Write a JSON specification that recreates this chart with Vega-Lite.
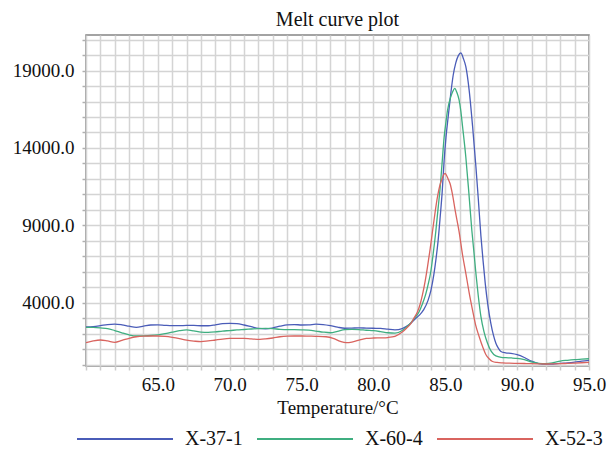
{
  "$schema": "https://vega.github.io/schema/vega-lite/v6.json",
  "width": 503,
  "height": 331,
  "autosize": {"type": "none"},
  "padding": {"left": 86, "top": 35, "right": 20, "bottom": 84},
  "background": "white",
  "title": {"text": "Melt curve plot", "font": "Liberation Serif", "fontSize": 20, "fontWeight": "normal", "color": "#111111", "anchor": "middle", "offset": 1},
  "config": {"view": {"stroke": "#858585", "strokeWidth": 1.5}, "font": "Liberation Serif"},
  "datasets": {
    "curves": [
      {"s":"X-37-1","t":60.0,"v":2430},{"s":"X-37-1","t":60.5,"v":2460},{"s":"X-37-1","t":61.0,"v":2520},{"s":"X-37-1","t":61.5,"v":2590},{"s":"X-37-1","t":62.0,"v":2620},{"s":"X-37-1","t":62.5,"v":2570},{"s":"X-37-1","t":63.0,"v":2480},{"s":"X-37-1","t":63.5,"v":2410},{"s":"X-37-1","t":64.0,"v":2480},{"s":"X-37-1","t":64.5,"v":2560},{"s":"X-37-1","t":65.0,"v":2570},{"s":"X-37-1","t":65.5,"v":2540},{"s":"X-37-1","t":66.0,"v":2520},{"s":"X-37-1","t":66.5,"v":2520},{"s":"X-37-1","t":67.0,"v":2530},{"s":"X-37-1","t":67.5,"v":2530},{"s":"X-37-1","t":68.0,"v":2510},{"s":"X-37-1","t":68.5,"v":2510},{"s":"X-37-1","t":69.0,"v":2570},{"s":"X-37-1","t":69.5,"v":2650},{"s":"X-37-1","t":70.0,"v":2670},{"s":"X-37-1","t":70.5,"v":2650},{"s":"X-37-1","t":71.0,"v":2560},{"s":"X-37-1","t":71.5,"v":2450},{"s":"X-37-1","t":72.0,"v":2340},{"s":"X-37-1","t":72.5,"v":2310},{"s":"X-37-1","t":73.0,"v":2370},{"s":"X-37-1","t":73.5,"v":2480},{"s":"X-37-1","t":74.0,"v":2570},{"s":"X-37-1","t":74.5,"v":2590},{"s":"X-37-1","t":75.0,"v":2560},{"s":"X-37-1","t":75.5,"v":2570},{"s":"X-37-1","t":76.0,"v":2610},{"s":"X-37-1","t":76.5,"v":2590},{"s":"X-37-1","t":77.0,"v":2520},{"s":"X-37-1","t":77.5,"v":2420},{"s":"X-37-1","t":78.0,"v":2350},{"s":"X-37-1","t":78.5,"v":2360},{"s":"X-37-1","t":79.0,"v":2370},{"s":"X-37-1","t":79.5,"v":2360},{"s":"X-37-1","t":80.0,"v":2350},{"s":"X-37-1","t":80.5,"v":2340},{"s":"X-37-1","t":81.0,"v":2290},{"s":"X-37-1","t":81.5,"v":2250},{"s":"X-37-1","t":82.0,"v":2330},{"s":"X-37-1","t":82.3,"v":2470},{"s":"X-37-1","t":82.6,"v":2680},{"s":"X-37-1","t":82.9,"v":2950},{"s":"X-37-1","t":83.2,"v":3200},{"s":"X-37-1","t":83.5,"v":3550},{"s":"X-37-1","t":83.8,"v":4150},{"s":"X-37-1","t":84.0,"v":4800},{"s":"X-37-1","t":84.2,"v":5800},{"s":"X-37-1","t":84.35,"v":6800},{"s":"X-37-1","t":84.5,"v":8000},{"s":"X-37-1","t":84.65,"v":9600},{"s":"X-37-1","t":84.78,"v":11100},{"s":"X-37-1","t":84.92,"v":13200},{"s":"X-37-1","t":85.05,"v":14700},{"s":"X-37-1","t":85.2,"v":16000},{"s":"X-37-1","t":85.38,"v":17500},{"s":"X-37-1","t":85.55,"v":18700},{"s":"X-37-1","t":85.73,"v":19500},{"s":"X-37-1","t":85.9,"v":19950},{"s":"X-37-1","t":86.08,"v":20150},{"s":"X-37-1","t":86.25,"v":19800},{"s":"X-37-1","t":86.43,"v":19250},{"s":"X-37-1","t":86.66,"v":17740},{"s":"X-37-1","t":86.9,"v":15400},{"s":"X-37-1","t":87.13,"v":12800},{"s":"X-37-1","t":87.29,"v":10800},{"s":"X-37-1","t":87.48,"v":8300},{"s":"X-37-1","t":87.63,"v":6700},{"s":"X-37-1","t":87.78,"v":5250},{"s":"X-37-1","t":87.97,"v":3800},{"s":"X-37-1","t":88.17,"v":2670},{"s":"X-37-1","t":88.35,"v":1900},{"s":"X-37-1","t":88.52,"v":1380},{"s":"X-37-1","t":88.7,"v":1050},{"s":"X-37-1","t":88.87,"v":850},{"s":"X-37-1","t":89.2,"v":760},{"s":"X-37-1","t":89.57,"v":720},{"s":"X-37-1","t":90.0,"v":640},{"s":"X-37-1","t":90.5,"v":460},{"s":"X-37-1","t":91.0,"v":220},{"s":"X-37-1","t":91.5,"v":70},{"s":"X-37-1","t":92.0,"v":30},{"s":"X-37-1","t":92.5,"v":40},{"s":"X-37-1","t":93.0,"v":80},{"s":"X-37-1","t":93.5,"v":110},{"s":"X-37-1","t":94.0,"v":160},{"s":"X-37-1","t":94.5,"v":230},{"s":"X-37-1","t":95.0,"v":280},
      {"s":"X-60-4","t":60.0,"v":2410},{"s":"X-60-4","t":60.5,"v":2400},{"s":"X-60-4","t":61.0,"v":2370},{"s":"X-60-4","t":61.5,"v":2330},{"s":"X-60-4","t":62.0,"v":2200},{"s":"X-60-4","t":62.5,"v":2050},{"s":"X-60-4","t":63.0,"v":1920},{"s":"X-60-4","t":63.5,"v":1850},{"s":"X-60-4","t":64.0,"v":1860},{"s":"X-60-4","t":64.5,"v":1880},{"s":"X-60-4","t":65.0,"v":1920},{"s":"X-60-4","t":65.5,"v":2000},{"s":"X-60-4","t":66.0,"v":2100},{"s":"X-60-4","t":66.5,"v":2190},{"s":"X-60-4","t":67.0,"v":2240},{"s":"X-60-4","t":67.5,"v":2180},{"s":"X-60-4","t":68.0,"v":2100},{"s":"X-60-4","t":68.5,"v":2080},{"s":"X-60-4","t":69.0,"v":2110},{"s":"X-60-4","t":69.5,"v":2170},{"s":"X-60-4","t":70.0,"v":2200},{"s":"X-60-4","t":70.5,"v":2240},{"s":"X-60-4","t":71.0,"v":2270},{"s":"X-60-4","t":71.5,"v":2300},{"s":"X-60-4","t":72.0,"v":2330},{"s":"X-60-4","t":72.5,"v":2340},{"s":"X-60-4","t":73.0,"v":2320},{"s":"X-60-4","t":73.5,"v":2280},{"s":"X-60-4","t":74.0,"v":2260},{"s":"X-60-4","t":74.5,"v":2260},{"s":"X-60-4","t":75.0,"v":2250},{"s":"X-60-4","t":75.5,"v":2230},{"s":"X-60-4","t":76.0,"v":2170},{"s":"X-60-4","t":76.5,"v":2100},{"s":"X-60-4","t":77.0,"v":2060},{"s":"X-60-4","t":77.5,"v":2150},{"s":"X-60-4","t":78.0,"v":2260},{"s":"X-60-4","t":78.5,"v":2280},{"s":"X-60-4","t":79.0,"v":2260},{"s":"X-60-4","t":79.5,"v":2220},{"s":"X-60-4","t":80.0,"v":2190},{"s":"X-60-4","t":80.5,"v":2130},{"s":"X-60-4","t":81.0,"v":2060},{"s":"X-60-4","t":81.5,"v":2030},{"s":"X-60-4","t":82.0,"v":2200},{"s":"X-60-4","t":82.3,"v":2430},{"s":"X-60-4","t":82.6,"v":2700},{"s":"X-60-4","t":82.9,"v":3050},{"s":"X-60-4","t":83.17,"v":3400},{"s":"X-60-4","t":83.4,"v":3900},{"s":"X-60-4","t":83.64,"v":4550},{"s":"X-60-4","t":83.8,"v":5150},{"s":"X-60-4","t":83.99,"v":6000},{"s":"X-60-4","t":84.15,"v":7100},{"s":"X-60-4","t":84.34,"v":8600},{"s":"X-60-4","t":84.5,"v":10100},{"s":"X-60-4","t":84.65,"v":11500},{"s":"X-60-4","t":84.8,"v":13300},{"s":"X-60-4","t":84.92,"v":14700},{"s":"X-60-4","t":85.05,"v":15700},{"s":"X-60-4","t":85.15,"v":16400},{"s":"X-60-4","t":85.38,"v":17300},{"s":"X-60-4","t":85.52,"v":17650},{"s":"X-60-4","t":85.66,"v":17850},{"s":"X-60-4","t":85.8,"v":17600},{"s":"X-60-4","t":85.96,"v":17100},{"s":"X-60-4","t":86.08,"v":16400},{"s":"X-60-4","t":86.2,"v":15400},{"s":"X-60-4","t":86.43,"v":13400},{"s":"X-60-4","t":86.64,"v":11100},{"s":"X-60-4","t":86.85,"v":8650},{"s":"X-60-4","t":87.0,"v":7200},{"s":"X-60-4","t":87.13,"v":5900},{"s":"X-60-4","t":87.3,"v":4400},{"s":"X-60-4","t":87.48,"v":3100},{"s":"X-60-4","t":87.7,"v":2100},{"s":"X-60-4","t":87.94,"v":1380},{"s":"X-60-4","t":88.2,"v":850},{"s":"X-60-4","t":88.52,"v":560},{"s":"X-60-4","t":88.9,"v":470},{"s":"X-60-4","t":89.22,"v":450},{"s":"X-60-4","t":89.6,"v":430},{"s":"X-60-4","t":90.0,"v":400},{"s":"X-60-4","t":90.5,"v":320},{"s":"X-60-4","t":91.0,"v":180},{"s":"X-60-4","t":91.5,"v":80},{"s":"X-60-4","t":92.0,"v":60},{"s":"X-60-4","t":92.5,"v":120},{"s":"X-60-4","t":93.0,"v":230},{"s":"X-60-4","t":93.5,"v":280},{"s":"X-60-4","t":94.0,"v":320},{"s":"X-60-4","t":94.5,"v":350},{"s":"X-60-4","t":95.0,"v":380},
      {"s":"X-52-3","t":60.0,"v":1415},{"s":"X-52-3","t":60.5,"v":1530},{"s":"X-52-3","t":61.0,"v":1590},{"s":"X-52-3","t":61.5,"v":1530},{"s":"X-52-3","t":62.0,"v":1440},{"s":"X-52-3","t":62.5,"v":1560},{"s":"X-52-3","t":63.0,"v":1700},{"s":"X-52-3","t":63.5,"v":1800},{"s":"X-52-3","t":64.0,"v":1840},{"s":"X-52-3","t":64.5,"v":1850},{"s":"X-52-3","t":65.0,"v":1850},{"s":"X-52-3","t":65.5,"v":1820},{"s":"X-52-3","t":66.0,"v":1760},{"s":"X-52-3","t":66.5,"v":1680},{"s":"X-52-3","t":67.0,"v":1580},{"s":"X-52-3","t":67.5,"v":1520},{"s":"X-52-3","t":68.0,"v":1480},{"s":"X-52-3","t":68.5,"v":1530},{"s":"X-52-3","t":69.0,"v":1590},{"s":"X-52-3","t":69.5,"v":1650},{"s":"X-52-3","t":70.0,"v":1690},{"s":"X-52-3","t":70.5,"v":1700},{"s":"X-52-3","t":71.0,"v":1690},{"s":"X-52-3","t":71.5,"v":1660},{"s":"X-52-3","t":72.1,"v":1635},{"s":"X-52-3","t":72.5,"v":1660},{"s":"X-52-3","t":73.0,"v":1720},{"s":"X-52-3","t":73.5,"v":1800},{"s":"X-52-3","t":74.0,"v":1840},{"s":"X-52-3","t":74.5,"v":1850},{"s":"X-52-3","t":75.0,"v":1850},{"s":"X-52-3","t":75.5,"v":1840},{"s":"X-52-3","t":76.0,"v":1830},{"s":"X-52-3","t":76.7,"v":1800},{"s":"X-52-3","t":77.2,"v":1700},{"s":"X-52-3","t":77.7,"v":1500},{"s":"X-52-3","t":78.1,"v":1415},{"s":"X-52-3","t":78.5,"v":1450},{"s":"X-52-3","t":79.0,"v":1580},{"s":"X-52-3","t":79.5,"v":1690},{"s":"X-52-3","t":80.0,"v":1720},{"s":"X-52-3","t":80.5,"v":1730},{"s":"X-52-3","t":81.0,"v":1750},{"s":"X-52-3","t":81.5,"v":1820},{"s":"X-52-3","t":82.0,"v":2100},{"s":"X-52-3","t":82.3,"v":2350},{"s":"X-52-3","t":82.6,"v":2650},{"s":"X-52-3","t":82.85,"v":3050},{"s":"X-52-3","t":83.06,"v":3400},{"s":"X-52-3","t":83.25,"v":3900},{"s":"X-52-3","t":83.41,"v":4500},{"s":"X-52-3","t":83.6,"v":5400},{"s":"X-52-3","t":83.76,"v":6300},{"s":"X-52-3","t":83.95,"v":7500},{"s":"X-52-3","t":84.11,"v":8600},{"s":"X-52-3","t":84.3,"v":9900},{"s":"X-52-3","t":84.45,"v":10800},{"s":"X-52-3","t":84.6,"v":11500},{"s":"X-52-3","t":84.75,"v":11950},{"s":"X-52-3","t":84.88,"v":12250},{"s":"X-52-3","t":84.99,"v":12360},{"s":"X-52-3","t":85.1,"v":12200},{"s":"X-52-3","t":85.2,"v":12000},{"s":"X-52-3","t":85.33,"v":11700},{"s":"X-52-3","t":85.5,"v":11000},{"s":"X-52-3","t":85.7,"v":9900},{"s":"X-52-3","t":85.96,"v":8600},{"s":"X-52-3","t":86.2,"v":7100},{"s":"X-52-3","t":86.43,"v":5900},{"s":"X-52-3","t":86.65,"v":4700},{"s":"X-52-3","t":86.9,"v":3500},{"s":"X-52-3","t":87.1,"v":2600},{"s":"X-52-3","t":87.36,"v":1800},{"s":"X-52-3","t":87.6,"v":1150},{"s":"X-52-3","t":87.82,"v":650},{"s":"X-52-3","t":88.05,"v":380},{"s":"X-52-3","t":88.29,"v":200},{"s":"X-52-3","t":88.6,"v":140},{"s":"X-52-3","t":89.0,"v":110},{"s":"X-52-3","t":89.45,"v":90},{"s":"X-52-3","t":90.0,"v":80},{"s":"X-52-3","t":90.5,"v":70},{"s":"X-52-3","t":91.0,"v":60},{"s":"X-52-3","t":91.5,"v":50},{"s":"X-52-3","t":92.0,"v":40},{"s":"X-52-3","t":92.5,"v":50},{"s":"X-52-3","t":93.0,"v":60},{"s":"X-52-3","t":93.5,"v":80},{"s":"X-52-3","t":94.0,"v":100},{"s":"X-52-3","t":94.5,"v":120},{"s":"X-52-3","t":95.0,"v":140}
    ]
  },
  "data": {"name": "curves"},
  "mark": {"type": "line", "strokeWidth": 1.3, "interpolate": "monotone", "clip": true},
  "encoding": {
    "x": {
      "field": "t", "type": "quantitative",
      "scale": {"domain": [60, 95], "nice": false, "zero": false},
      "axis": {
        "values": [60,61,62,63,64,65,66,67,68,69,70,71,72,73,74,75,76,77,78,79,80,81,82,83,84,85,86,87,88,89,90,91,92,93,94,95],
        "labelExpr": "datum.value % 5 == 0 && datum.value > 60 ? format(datum.value, '.1f') : ''",
        "labelFont": "Liberation Serif", "labelFontSize": 19, "labelColor": "#111111",
        "labelOverlap": false, "labelFlush": false, "labelPadding": 5,
        "tickSize": 4, "tickColor": "#cccccc", "tickWidth": 1.5,
        "grid": true, "gridColor": "#d4d4d4", "gridWidth": 1.5,
        "domain": false,
        "title": "Temperature/°C", "titleFont": "Liberation Serif", "titleFontSize": 19,
        "titleFontWeight": "normal", "titleColor": "#111111", "titlePadding": 4
      }
    },
    "y": {
      "field": "v", "type": "quantitative",
      "scale": {"domain": [-90, 21300], "nice": false, "zero": false},
      "axis": {
        "values": [0,1000,2000,3000,4000,5000,6000,7000,8000,9000,10000,11000,12000,13000,14000,15000,16000,17000,18000,19000,20000,21000],
        "labelExpr": "(datum.value + 1000) % 5000 == 0 ? format(datum.value, '.1f') : ''",
        "labelFont": "Liberation Serif", "labelFontSize": 19, "labelColor": "#111111",
        "labelOverlap": false, "labelPadding": 8,
        "tickSize": 4, "tickColor": "#b0b0b0", "tickWidth": 1.5,
        "grid": true, "gridColor": "#d4d4d4", "gridWidth": 1.5,
        "domain": false, "title": null
      }
    },
    "color": {
      "field": "s", "type": "nominal",
      "scale": {"domain": ["X-37-1", "X-60-4", "X-52-3"], "range": ["#4a5cb8", "#3fae80", "#d9645f"]},
      "legend": {
        "orient": "none", "legendX": -10, "legendY": 355, "direction": "horizontal",
        "title": null, "symbolType": "stroke", "symbolSize": 9216, "symbolStrokeWidth": 2,
        "labelFont": "Liberation Serif", "labelFontSize": 20, "labelColor": "#111111",
        "labelOffset": 11, "columnPadding": 10
      }
    }
  }
}
